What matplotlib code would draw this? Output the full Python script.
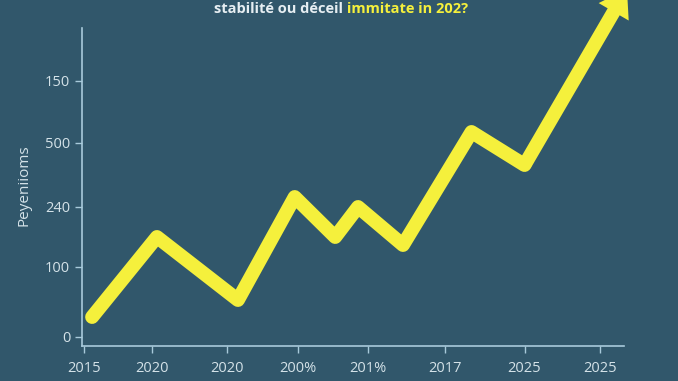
import numpy as np
import matplotlib
matplotlib.use('Agg')
import matplotlib.pyplot as plt

plt.rcParams['font.family'] = ['Open Sans', 'DejaVu Sans']

# Chart data
x_vals = [0.11, 0.99, 2.09, 2.86, 3.41, 3.72, 4.33, 5.26, 5.98]
y_vals = [29, 109, 46, 149, 109, 139, 101, 214, 181]
arrow_end = (7.37, 357)

tick_x = [0, 0.92, 1.94, 2.9, 3.85, 4.9, 5.98, 7.0]
tick_x_labels = ['2015', '2020', '2020', '200%', '201%', '2017', '2025', '2025']
tick_y = [9, 79, 139, 203, 265]
tick_y_labels = ['0', '100', '240', '500', '150']

bg = '#31576b'
yellow = '#f5f03c'
txt = '#d4e2e8'
spine = '#a8cadb'

fig = plt.figure(figsize=(6.78, 3.81), dpi=100)
fig.patch.set_facecolor(bg)
ax = fig.add_axes([82/678, 35/381, (624-82)/678, (346-28)/381])
ax.set_facecolor(bg)

ax.plot(x_vals, y_vals, color=yellow, lw=10, solid_joinstyle='round',
        solid_capstyle='round', clip_on=False, zorder=3)
# final rise drawn as a filled arrow
ax.annotate('', xy=arrow_end, xytext=(x_vals[-1], y_vals[-1]),
            arrowprops=dict(arrowstyle='simple,head_length=0.95,head_width=1.25,tail_width=0.5',
                            facecolor=yellow, edgecolor='none', lw=0,
                            mutation_scale=20, shrinkA=0, shrinkB=0),
            annotation_clip=False, zorder=3)

ax.set_xlim(-0.027, 7.33)
ax.set_ylim(0, 318)
ax.set_xticks(tick_x)
ax.set_xticklabels(tick_x_labels)
ax.set_yticks(tick_y)
ax.set_yticklabels(tick_y_labels)
ax.tick_params(colors=spine, labelcolor=txt, labelsize=10.5, length=5, width=1)
ax.tick_params(axis='x', pad=6)

for s in ['top', 'right']:
    ax.spines[s].set_visible(False)
for s in ['left', 'bottom']:
    ax.spines[s].set_color(spine)
    ax.spines[s].set_linewidth(1.2)

ax.set_ylabel('Peyeniioms', color=txt, fontsize=11)
ax.yaxis.set_label_coords(-0.094, 0.506)

fig.text(343/678, 1 - 9/381, 'stabilité ou déceil', color='#e6eef2',
         fontsize=10.5, fontweight='bold', ha='right', va='center')
fig.text(347/678, 1 - 9/381, 'immitate in 202?', color=yellow,
         fontsize=10.5, fontweight='bold', ha='left', va='center')

fig.savefig('out.png', dpi=100, facecolor=bg)
